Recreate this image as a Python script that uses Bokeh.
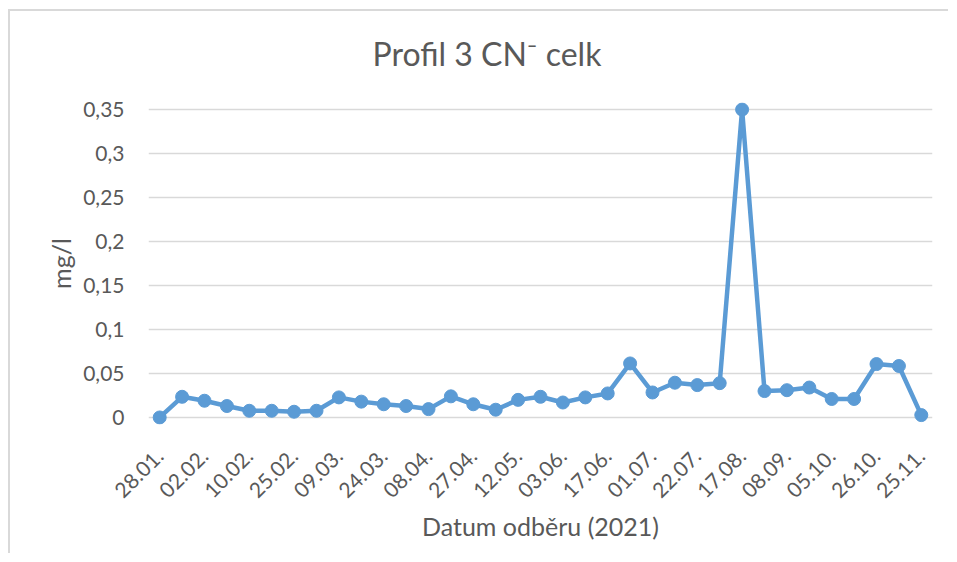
from bokeh.plotting import figure
from bokeh.models import Range1d, FixedTicker, Title
from bokeh.embed import file_html
from bokeh.resources import INLINE

# ---- data ----
values = [0.0, 0.0235, 0.019, 0.013, 0.0076, 0.0076, 0.0065, 0.0076, 0.0228, 0.018,
          0.015, 0.013, 0.0095, 0.024, 0.015, 0.0088, 0.020, 0.0235, 0.017, 0.0228,
          0.0273, 0.0614, 0.0284, 0.0395, 0.0368, 0.039, 0.35, 0.030, 0.031, 0.034,
          0.021, 0.021, 0.0607, 0.0585, 0.0027]
tick_labels = ["28.01.", "02.02.", "10.02.", "25.02.", "09.03.", "24.03.", "08.04.",
               "27.04.", "12.05.", "03.06.", "17.06.", "01.07.", "22.07.", "17.08.",
               "08.09.", "05.10.", "26.10.", "25.11."]
y_ticks = [0, 0.05, 0.1, 0.15, 0.2, 0.25, 0.3, 0.35]
y_tick_labels = ["0", "0,05", "0,1", "0,15", "0,2", "0,25", "0,3", "0,35"]
title_text = "Profil 3 CN\u207b celk"
x_title = "Datum odběru (2021)"
y_title = "mg/l"

x = list(range(len(values)))
x_ticks = x[::2]

FONT = "Lato"
TXT = "#595959"
BLUE = "#5B9BD5"
GRID = "#D9D9D9"

p = figure(width=948, height=553, output_backend="svg", toolbar_location=None,
           x_range=Range1d(-0.5, len(values) - 0.5),
           y_range=Range1d(-0.008, 0.358),
           min_border_left=148, min_border_right=16, min_border_top=102,
           min_border_bottom=129)
p.title = None
t = Title(text=title_text, align="left", text_font=FONT, text_font_size="32px",
          text_color=TXT, text_font_style="normal", standoff=60, offset=224)
p.add_layout(t, "above")

p.outline_line_color = None
p.border_fill_color = None
p.styles = {
    "background-color": "white",
    "background-image": "linear-gradient(#d9d9d9, #d9d9d9), linear-gradient(#d9d9d9, #d9d9d9)",
    "background-position": "8px 9px, 8px 9px",
    "background-size": "2px 100%, 100% 2px",
    "background-repeat": "no-repeat",
}

p.line(x, values, line_color=BLUE, line_width=4.5)
p.scatter(x, values, size=13, fill_color=BLUE, line_color=BLUE)

p.xgrid.grid_line_color = None
p.ygrid.grid_line_color = GRID
p.ygrid.grid_line_width = 1.5
p.ygrid.ticker = FixedTicker(ticks=y_ticks)

p.yaxis.ticker = FixedTicker(ticks=y_ticks)
p.yaxis.major_label_overrides = dict(zip(y_ticks, y_tick_labels))
p.xaxis.ticker = FixedTicker(ticks=x_ticks)
p.xaxis.major_label_overrides = dict(zip(x_ticks, tick_labels))
p.xaxis.major_label_orientation = 0.7854

for ax in (p.xaxis[0], p.yaxis[0]):
    ax.axis_line_color = None
    ax.major_tick_line_color = None
    ax.minor_tick_line_color = None
    ax.major_label_text_font = FONT
    ax.major_label_text_font_size = "21px"
    ax.major_label_text_color = TXT
    ax.axis_label_text_font = FONT
    ax.axis_label_text_font_size = "25px"
    ax.axis_label_text_color = TXT
    ax.axis_label_text_font_style = "normal"

p.xaxis.axis_label = x_title
p.yaxis.axis_label = y_title
p.yaxis.major_label_standoff = 18
p.yaxis.axis_label_standoff = 4
p.xaxis.major_label_standoff = 22
p.xaxis.axis_label_standoff = 3

open("out.html", "w").write(file_html(p, INLINE))
